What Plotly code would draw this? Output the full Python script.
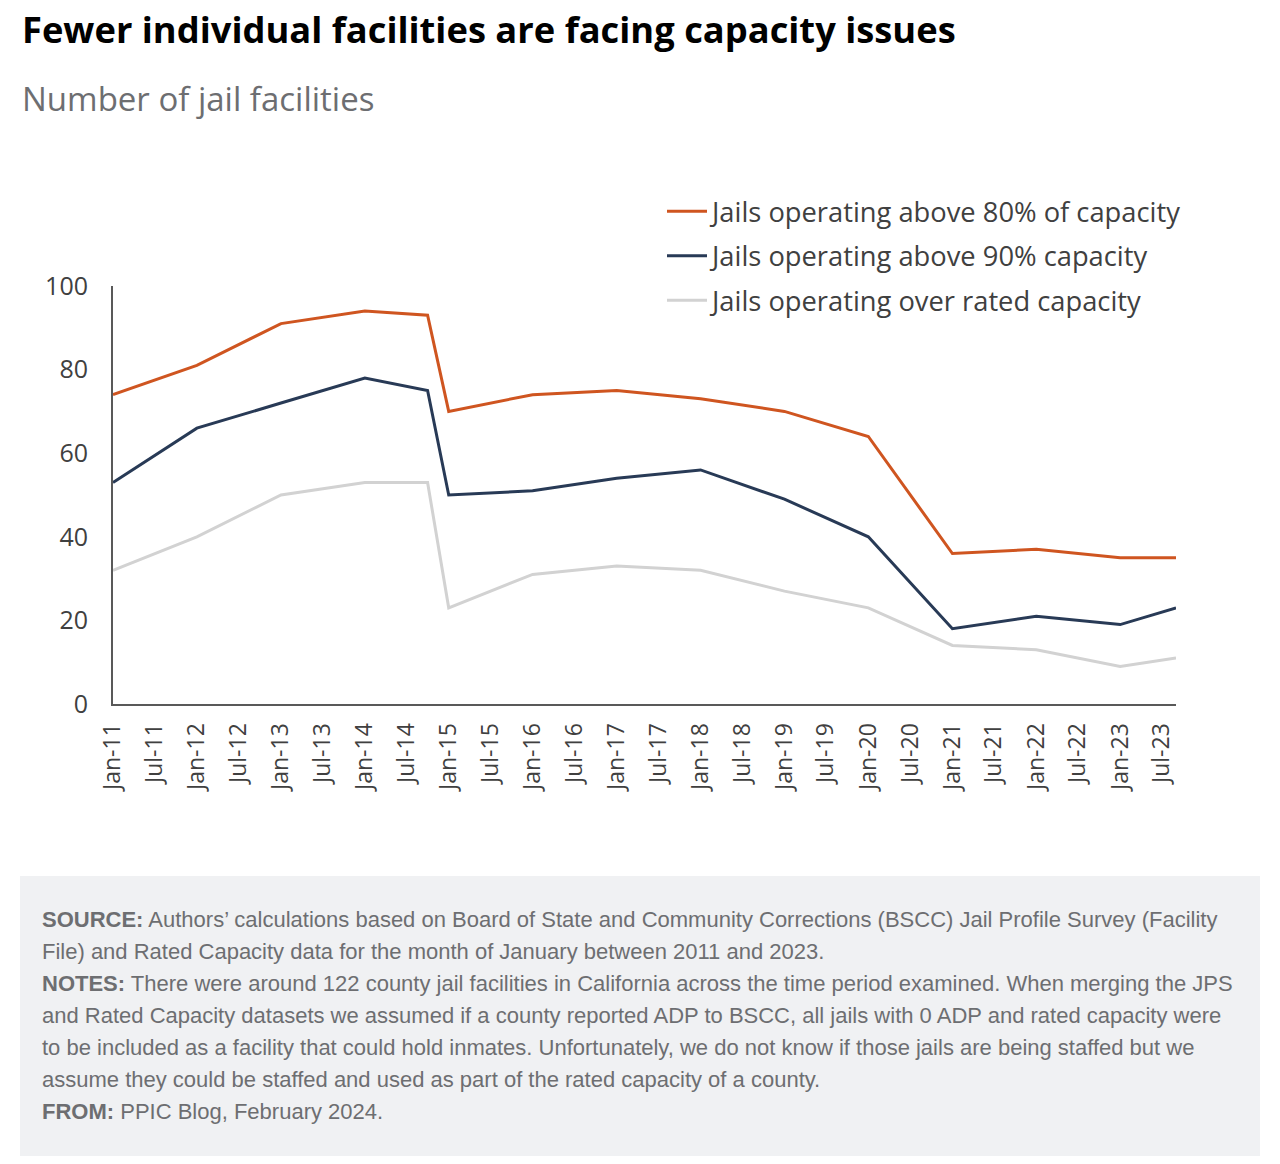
import plotly.graph_objects as go

dates = ["2011-01-01", "2012-01-01", "2013-01-01", "2014-01-01", "2014-10-01",
         "2015-01-01", "2016-01-01", "2017-01-01", "2018-01-01", "2019-01-01",
         "2020-01-01", "2021-01-01", "2022-01-01", "2023-01-01", "2023-09-01"]
above80 = [74, 81, 91, 94, 93, 70, 74, 75, 73, 70, 64, 36, 37, 35, 35]
above90 = [53, 66, 72, 78, 75, 50, 51, 54, 56, 49, 40, 18, 21, 19, 23]
over_rated = [32, 40, 50, 53, 53, 23, 31, 33, 32, 27, 23, 14, 13, 9, 11]

series_names = ["Jails operating above 80% of capacity",
                "Jails operating above 90% capacity",
                "Jails operating over rated capacity"]
series_colors = ["#CF5520", "#283A56", "#D2D2D2"]

tick_vals = []
tick_text = []
for yr in range(2011, 2024):
    for mo, lab in ((1, "Jan"), (7, "Jul")):
        tick_vals.append(f"{yr}-{mo:02d}-01")
        tick_text.append(f"{lab}-{yr % 100:02d}")

title = "Fewer individual facilities are facing capacity issues"
subtitle = "Number of jail facilities"
footer_lines = [
    "<b>SOURCE:</b> Authors’ calculations based on Board of State and Community Corrections (BSCC) Jail Profile Survey (Facility",
    "File) and Rated Capacity data for the month of January between 2011 and 2023.",
    "<b>NOTES:</b> There were around 122 county jail facilities in California across the time period examined. When merging the JPS",
    "and Rated Capacity datasets we assumed if a county reported ADP to BSCC, all jails with 0 ADP and rated capacity were",
    "to be included as a facility that could hold inmates. Unfortunately, we do not know if those jails are being staffed but we",
    "assume they could be staffed and used as part of the rated capacity of a county.",
    "<b>FROM:</b> PPIC Blog, February 2024.",
]

W, H = 1280, 1164
L, R, T, B = 113, 1176, 286, 704
pw, ph = R - L, B - T


def px(x):
    return (x - L) / pw


def py(y):
    return (B - y) / ph


FONT = "Open Sans"

fig = go.Figure()
for name, vals, col in zip(series_names, [above80, above90, over_rated], series_colors):
    fig.add_trace(go.Scatter(x=dates, y=vals, mode="lines", name=name,
                             line=dict(color=col, width=3), legendgroup=name))

fig.update_layout(
    width=W, height=H,
    margin=dict(l=L, r=W - R, t=T, b=H - B, pad=0),
    paper_bgcolor="white", plot_bgcolor="white",
    font=dict(family=FONT, color="#404040"),
    showlegend=True,
    legend=dict(x=px(662), xanchor="left", y=py(187), yanchor="top",
                font=dict(size=27.3, color="#404040", family=FONT),
                tracegroupgap=6, bgcolor="rgba(0,0,0,0)", itemwidth=40),
    xaxis=dict(type="date", range=["2011-01-01", "2023-09-01"],
               tickvals=tick_vals, ticktext=tick_text, tickangle=-90,
               tickfont=dict(size=23, color="#404040"),
               showgrid=False, zeroline=False, showline=True,
               linecolor="#595959", linewidth=2, ticks="", ticklen=0,
               ticklabelstandoff=8),
    yaxis=dict(range=[0, 100], dtick=20, tick0=0,
               tickfont=dict(size=25, color="#404040"),
               showgrid=False, zeroline=False, showline=True,
               linecolor="#595959", linewidth=2, ticks="", ticklen=0,
               ticklabelstandoff=18),
)

anns = [
    dict(text=f"<b>{title}</b>", x=px(20), y=py(29), xanchor="left", yanchor="middle",
         font=dict(size=36.3, color="#000000", family=FONT)),
    dict(text=subtitle, x=px(20), y=py(98), xanchor="left", yanchor="middle",
         font=dict(size=33, color="#6D6E71", family=FONT)),
]
for i, line in enumerate(footer_lines):
    anns.append(dict(text=line, x=px(40), y=py(919 + 32 * i), xanchor="left",
                     yanchor="middle", align="left",
                     font=dict(size=22, color="#6D6E71", family="Liberation Sans")))
for a in anns:
    a.update(xref="paper", yref="paper", showarrow=False)
fig.update_layout(annotations=anns)

fig.add_shape(type="rect", xref="paper", yref="paper", x0=px(20), x1=px(1260),
              y0=py(876), y1=py(1156), fillcolor="#F0F1F3", line=dict(width=0),
              layer="below")

fig.write_html("out.html")
